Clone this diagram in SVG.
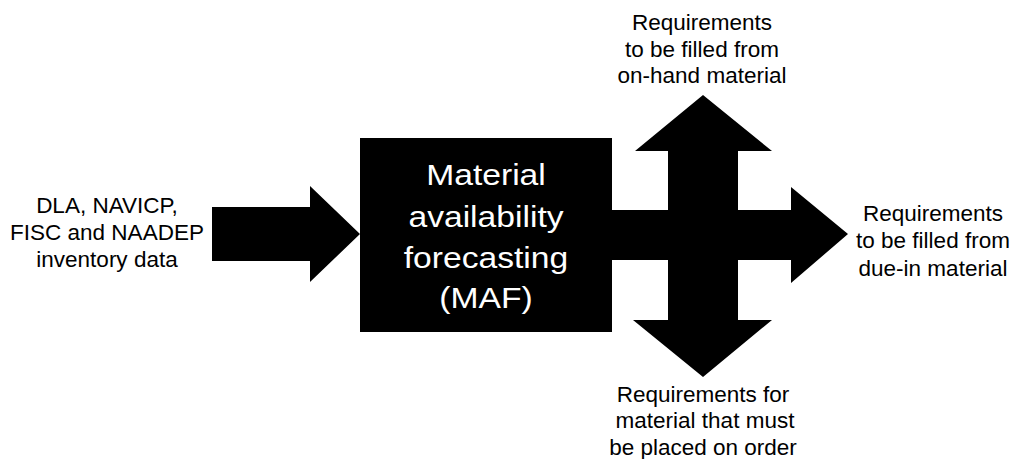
<svg xmlns="http://www.w3.org/2000/svg" width="1016" height="459" viewBox="0 0 1016 459">
<style>
.arrow{fill:#000;stroke:none}
.lbl{font-family:"Liberation Sans",Arial,Helvetica,sans-serif;font-size:22.5px;fill:#000;text-anchor:middle}
.box-t{font-family:"Liberation Sans",Arial,Helvetica,sans-serif;font-size:29px;fill:#fff;text-anchor:middle}
</style>
<rect width="1016" height="459" fill="#fff"/>
<g id="connectors">
<polygon class="arrow" points="212,207 310,207 310,186 360,234 310,282 310,261 212,261"/>
<polygon class="arrow" points="600,210 668,210 668,151 635,151 703,95 772,151 738,151 738,210 791,210 791,187 848,234 791,283 791,260 738,260 738,320 772,320 703,377 633,320 668,320 668,260 600,260"/>
</g>
<g id="input">
<text class="lbl"><tspan x="107" y="213">DLA, NAVICP,</tspan><tspan x="107" y="240">FISC and NAADEP</tspan><tspan x="107" y="267">inventory data</tspan></text>
</g>
<g id="maf">
<rect x="360" y="138" width="252" height="194" fill="#000"/>
<g transform="translate(486,0) scale(1.16,1)">
<text class="box-t"><tspan x="0" y="185">Material</tspan><tspan x="0" y="227">availability</tspan><tspan x="0" y="268">forecasting</tspan><tspan x="0" y="308">(MAF)</tspan></text>
</g>
</g>
<g id="onhand">
<text class="lbl"><tspan x="702" y="30">Requirements</tspan><tspan x="702" y="57">to be filled from</tspan><tspan x="702" y="83">on-hand material</tspan></text>
</g>
<g id="duein">
<text class="lbl"><tspan x="933" y="221">Requirements</tspan><tspan x="933" y="248">to be filled from</tspan><tspan x="933" y="276">due-in material</tspan></text>
</g>
<g id="order">
<text class="lbl"><tspan x="703" y="402">Requirements for</tspan><tspan x="705" y="428">material that must</tspan><tspan x="703" y="455">be placed on order</tspan></text>
</g>
</svg>
